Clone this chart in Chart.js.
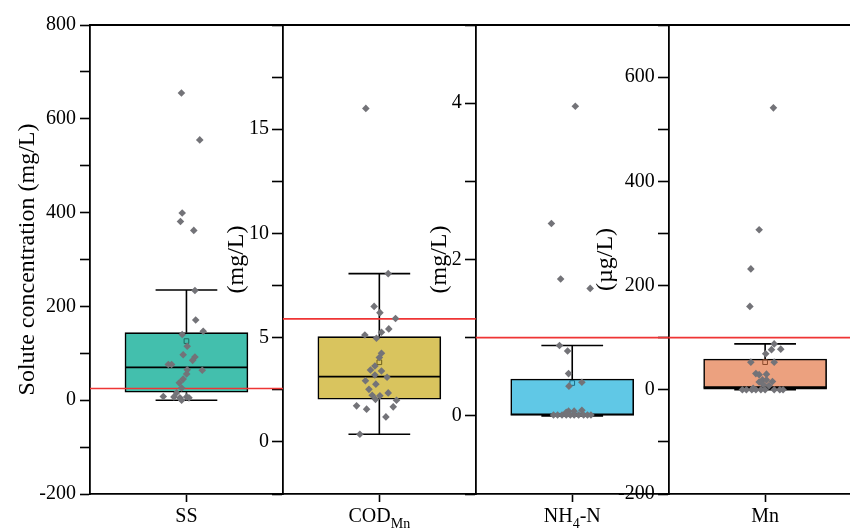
<!DOCTYPE html>
<html>
<head>
<meta charset="utf-8">
<title>Solute concentration</title>
<script src="https://cdn.jsdelivr.net/npm/chart.js@4.4.1/dist/chart.umd.min.js"></script>
<style>
  body { margin: 0; background: #fff; overflow: hidden; }
  #wrap { width: 850px; height: 532px; }
</style>
</head>
<body>
<div id="wrap"><canvas id="myChart"></canvas></div>
<script>
// Panel names (text in _{} is a subscript) and y axis titles
const categories = ['SS', 'COD_{Mn}', 'NH_{4}-N', 'Mn'];
const axisTitles = ['Solute concentration (mg/L)', '(mg/L)', '(mg/L)', '(\u00b5g/L)'];

// Axis ranges and labelled ticks of each panel
const yMin = [-200, -2.5, -1, -200];
const yMax = [800, 20, 5, 700];
const yStep = [100, 2.5, 1, 100];
const ssTicks = [-200, 0, 200, 400, 600, 800];
const codTicks = [0, 5, 10, 15];
const nhTicks = [0, 2, 4];
const mnTicks = [-200, 0, 200, 400, 600];

// Box statistics (SS, COD, NH4-N, Mn)
const whiskerLow = [0, 0.37, 0, 0];
const q1 = [17, 2.05, 0, 0];
const median = [70, 3.13, 0.02, 5];
const q3 = [144, 5.05, 0.47, 59];
const whiskerHigh = [235, 8.07, 0.9, 88];
const means = [126, 3.82, 0.42, 53];
const limits = [25, 5.9, 1.0, 100];

// Samples, with their sideways jitter (fraction of a panel)
const ssValues = [655, 555, 399, 381, 362, 234, 171, 147, 140, 115, 97, 92, 85, 76, 76, 65, 64, 56, 45, 37, 26, 16, 8, 7, 5, 7, 5, 0];
const ssJitter = [-0.026, 0.069, -0.022, -0.031, 0.038, 0.044, 0.048, 0.087, -0.022, 0.004, -0.017, 0.044, 0.032, -0.094, -0.077, 0.004, 0.082, 0.001, -0.017, -0.037, -0.025, -0.051, -0.12, -0.065, -0.034, 0.001, 0.013, -0.025];

const codValues = [16.0, 8.07, 6.5, 6.2, 5.92, 5.42, 5.26, 5.13, 4.97, 4.25, 4.05, 3.64, 3.45, 3.4, 3.21, 3.1, 2.93, 2.77, 2.52, 2.35, 2.24, 2.21, 2.04, 2.0, 1.73, 1.68, 1.57, 1.2, 0.37];
const codJitter = [-0.07, 0.046, -0.027, 0.003, 0.084, 0.049, 0.011, -0.075, -0.015, 0.011, 0.0, -0.023, -0.046, 0.011, -0.023, 0.04, -0.072, -0.018, -0.054, 0.046, -0.037, 0.003, -0.02, 0.089, -0.118, 0.072, -0.066, 0.034, -0.101];

const nhValues = [3.96, 2.46, 1.75, 1.63, 0.9, 0.83, 0.54, 0.43, 0.38, 0.07, 0.06, 0.06, 0.045, 0.01, 0.01, 0.01, 0.01, 0.01, 0.01, 0.01, 0.01, 0.01, 0.01];
const nhJitter = [0.016, -0.108, -0.06, 0.093, -0.066, -0.024, -0.019, 0.05, -0.017, 0.05, -0.019, 0.01, -0.031, -0.097, -0.076, -0.053, -0.031, -0.01, 0.01, 0.033, 0.059, 0.079, 0.097];

const mnValues = [541, 307, 232, 160, 88, 77, 78, 69, 53, 53, 31, 29, 30, 19, 15, 19, 16, 10, 8, 3, 0, 0, 0, 0, 0, 0, 0, 0, 0];
const mnJitter = [0.043, -0.031, -0.074, -0.079, 0.047, 0.033, 0.081, 0.003, -0.074, 0.047, -0.048, -0.031, 0.007, -0.014, -0.031, 0.007, 0.038, -0.01, 0.02, -0.062, -0.118, -0.097, -0.069, -0.048, -0.022, 0, 0.047, 0.076, 0.093];

const tickLists = [ssTicks, codTicks, nhTicks, mnTicks];
const valueLists = [ssValues, codValues, nhValues, mnValues];
const jitterLists = [ssJitter, codJitter, nhJitter, mnJitter];

const axisIds = ['y', 'y2', 'y3', 'y4'];
const boxColors = ['#43bfad', '#d9c45e', '#60c8e6', '#eca17f'];
const meanColors = ['#1f6b60', '#6e5f1c', '#1c6a85', '#8c4a2c'];
const serif = "'Liberation Serif', 'Times New Roman', serif";
const xMax = 3.94;

// Build the layers of each panel
const datasets = [];
categories.forEach(function(cat, i) {
  const c = i + 0.5;
  const yID = axisIds[i];
  const cap = 0.16, half = 0.318;

  datasets.push({
    type: 'scatter', yAxisID: yID, order: 0,
    data: valueLists[i].map((v, k) => ({x: c + jitterLists[i][k], y: v})),
    pointStyle: 'rectRot', pointRadius: 3.8,
    backgroundColor: '#737378', borderColor: '#737378', borderWidth: 0
  });
  datasets.push({
    type: 'scatter', yAxisID: yID, order: 1,
    data: [{x: c, y: means[i]}],
    pointStyle: 'rect', pointRadius: 3.3,
    backgroundColor: 'rgba(0,0,0,0)', borderColor: meanColors[i], borderWidth: 1
  });
  datasets.push({
    type: 'line', yAxisID: yID, order: 2,
    data: [{x: i, y: limits[i]}, {x: Math.min(i + 1, xMax), y: limits[i]}],
    borderColor: '#ef3535', borderWidth: 1.6, pointRadius: 0
  });
  datasets.push({
    type: 'line', yAxisID: yID, order: 3, spanGaps: false,
    data: [
      {x: c - cap, y: whiskerHigh[i]}, {x: c + cap, y: whiskerHigh[i]}, {x: c, y: null},
      {x: c, y: whiskerHigh[i]}, {x: c, y: q3[i]}, {x: c, y: null},
      {x: c, y: q1[i]}, {x: c, y: whiskerLow[i]}, {x: c, y: null},
      {x: c - cap, y: whiskerLow[i]}, {x: c + cap, y: whiskerLow[i]}, {x: c, y: null},
      {x: c - half, y: median[i]}, {x: c + half, y: median[i]}
    ],
    borderColor: '#000', borderWidth: 1.6, pointRadius: 0
  });
  datasets.push({
    type: 'bar', yAxisID: yID, order: 4, grouped: false,
    data: [{x: c, y: [q1[i], q3[i]]}],
    backgroundColor: boxColors[i], borderColor: '#000', borderWidth: 1.6,
    borderSkipped: false, barThickness: 123
  });
});

// Axes placed inside the plot keep their labels flush with the line,
// so those labels get a trailing gap the width of tick + padding
function yAxis(i, position, gap) {
  return {
    type: 'linear', axis: 'y', position: position,
    min: yMin[i], max: yMax[i], beginAtZero: false,
    ticks: {
      stepSize: yStep[i], autoSkip: false, color: '#000', padding: 4,
      font: {family: serif, size: 20},
      callback: v => tickLists[i].includes(v) ? String(v) + gap : ''
    },
    grid: {drawOnChartArea: false, tickLength: 10, tickColor: '#000', tickWidth: 1.6},
    border: {color: '#000', width: 1.8}
  };
}

// Top frame line, rotated axis titles and subscripted category names
const panelText = {
  id: 'panelText',
  afterDraw(chart) {
    const g = chart.ctx, area = chart.chartArea, xs = chart.scales.x;
    g.save();
    g.strokeStyle = '#000';
    g.lineWidth = 1.8;
    g.beginPath();
    g.moveTo(area.left, area.top);
    g.lineTo(area.right, area.top);
    g.stroke();

    g.fillStyle = '#000';
    axisIds.forEach(function(id, i) {
      g.font = '20px ' + serif;
      const widest = Math.max(...tickLists[i].map(t => g.measureText(String(t)).width));
      const axisX = xs.getPixelForValue(i);
      g.save();
      g.translate(axisX - widest - 26, (area.top + area.bottom) / 2);
      g.rotate(-Math.PI / 2);
      g.font = '24px ' + serif;
      g.textAlign = 'center';
      g.textBaseline = 'middle';
      g.fillText(axisTitles[i], 0, 0);
      g.restore();
    });

    g.textAlign = 'left';
    g.textBaseline = 'alphabetic';
    categories.forEach(function(label, i) {
      const parts = label.split(/_\{([^}]*)\}/);
      const fonts = parts.map((p, k) => (k % 2 ? '14px ' : '20px ') + serif);
      let total = 0;
      parts.forEach((p, k) => { g.font = fonts[k]; total += g.measureText(p).width; });
      let x = xs.getPixelForValue(i + 0.5) - total / 2;
      parts.forEach(function(p, k) {
        g.font = fonts[k];
        g.fillText(p, x, k % 2 ? 528 : 522);
        x += g.measureText(p).width;
      });
    });
    g.restore();
  }
};

const ctx = document.getElementById('myChart');

new Chart(ctx, {
  type: 'scatter',
  data: { datasets: datasets },
  plugins: [panelText],
  options: {
    responsive: true,
    maintainAspectRatio: false,
    animation: false,
    events: [],
    layout: { autoPadding: false, padding: {top: 25, right: 0, left: 0, bottom: 0} },
    plugins: { legend: {display: false}, tooltip: {enabled: false} },
    scales: {
      x: {
        type: 'linear', min: 0, max: xMax, offset: false,
        afterBuildTicks: s => { s.ticks = categories.map((c, i) => ({value: i + 0.5})); },
        afterFit: s => { s.height = 38; },
        ticks: { autoSkip: false, padding: 0, callback: () => '' },
        grid: {offset: false, drawOnChartArea: false, tickLength: 8, tickColor: '#000', tickWidth: 1.6},
        border: {color: '#000', width: 1.8}
      },
      y: Object.assign(yAxis(0, 'left', ''), { afterFit: s => { s.width = 90; } }),
      y2: yAxis(1, {x: 1}, '\u2002\u2009'),
      y3: yAxis(2, {x: 2}, '\u2002\u2009'),
      y4: yAxis(3, {x: 3}, '\u2002\u2009')
    }
  }
});
</script>
</body>
</html>
